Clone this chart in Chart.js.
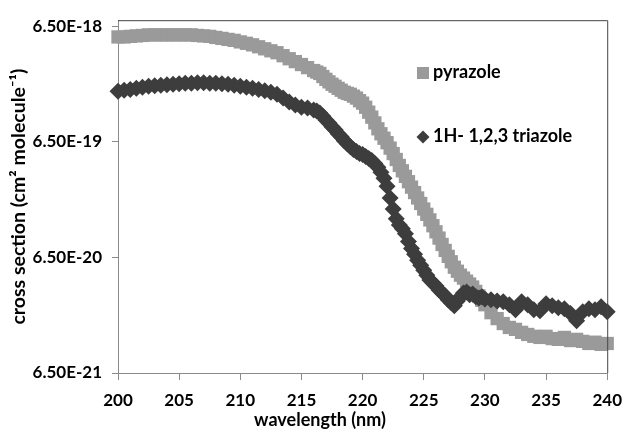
<!DOCTYPE html>
<html>
<head>
<meta charset="utf-8">
<script src="https://cdn.jsdelivr.net/npm/chart.js@4.4.1/dist/chart.umd.min.js"></script>
<style>
  html, body { margin: 0; padding: 0; background: #fff; }
  #wrap { width: 632px; height: 430px; position: relative; }
</style>
</head>
<body>
<div id="wrap"><canvas id="chart"></canvas></div>
<script>
// wavelength (nm): 0.5 nm steps, 0.25 nm across the steep drop
const wavelengths = [
  200, 200.5, 201, 201.5, 202, 202.5, 203, 203.5, 204, 204.5,
  205, 205.5, 206, 206.5, 207, 207.5, 208, 208.5, 209, 209.5,
  210, 210.5, 211, 211.5, 212, 212.5, 213, 213.5, 214, 214.5,
  215, 215.5, 216,
  216.25, 216.5, 216.75, 217, 217.25, 217.5, 217.75, 218, 218.25, 218.5,
  218.75, 219, 219.25, 219.5, 219.75, 220, 220.25, 220.5, 220.75, 221,
  221.25, 221.5, 221.75, 222, 222.25, 222.5, 222.75, 223, 223.25, 223.5,
  223.75, 224, 224.25, 224.5, 224.75, 225, 225.25, 225.5, 225.75, 226,
  226.25, 226.5, 226.75, 227, 227.25, 227.5, 227.75, 228, 228.25, 228.5,
  228.75, 229, 229.25, 229.5, 229.75,
  230, 230.5, 231, 231.5, 232, 232.5, 233, 233.5, 234, 234.5,
  235, 235.5, 236, 236.5, 237, 237.5, 238, 238.5, 239, 239.5,
  240
];

// cross section (cm2 molecule-1)
const pyrazole = [
  5.23e-18, 5.23e-18, 5.29e-18, 5.34e-18, 5.39e-18, 5.45e-18, 5.45e-18, 5.45e-18, 5.45e-18, 5.45e-18,
  5.45e-18, 5.45e-18, 5.45e-18, 5.39e-18, 5.34e-18, 5.29e-18, 5.18e-18, 5.08e-18, 4.98e-18, 4.89e-18,
  4.74e-18, 4.61e-18, 4.47e-18, 4.30e-18, 4.13e-18, 3.97e-18, 3.82e-18, 3.60e-18, 3.39e-18, 3.20e-18,
  3.02e-18, 2.84e-18, 2.68e-18,
  2.60e-18, 2.53e-18, 2.38e-18, 2.25e-18, 2.14e-18, 2.04e-18, 1.96e-18, 1.88e-18, 1.81e-18, 1.74e-18,
  1.70e-18, 1.67e-18, 1.61e-18, 1.55e-18, 1.47e-18, 1.40e-18, 1.29e-18, 1.17e-18, 1.06e-18, 9.45e-19,
  8.40e-19, 7.61e-19, 6.96e-19, 6.37e-19, 5.72e-19, 5.13e-19, 4.56e-19, 4.05e-19, 3.64e-19, 3.26e-19,
  2.93e-19, 2.63e-19, 2.36e-19, 2.12e-19, 1.90e-19, 1.70e-19, 1.53e-19, 1.37e-19, 1.22e-19, 1.08e-19,
  9.54e-20, 8.40e-20, 7.46e-20, 6.63e-20, 5.95e-20, 5.34e-20, 4.93e-20, 4.56e-20, 4.30e-20, 4.05e-20,
  3.82e-20, 3.60e-20, 3.30e-20, 3.02e-20, 2.76e-20,
  2.53e-20, 2.16e-20, 1.92e-20, 1.74e-20, 1.61e-20, 1.55e-20, 1.46e-20, 1.40e-20, 1.35e-20, 1.32e-20,
  1.35e-20, 1.29e-20, 1.27e-20, 1.32e-20, 1.24e-20, 1.27e-20, 1.22e-20, 1.17e-20, 1.20e-20, 1.15e-20,
  1.17e-20
];

const triazole = [
  1.77e-18, 1.81e-18, 1.84e-18, 1.88e-18, 1.92e-18, 1.96e-18, 1.98e-18, 2.00e-18, 2.02e-18, 2.04e-18,
  2.06e-18, 2.08e-18, 2.08e-18, 2.10e-18, 2.10e-18, 2.08e-18, 2.08e-18, 2.06e-18, 2.04e-18, 2.00e-18,
  1.96e-18, 1.92e-18, 1.88e-18, 1.84e-18, 1.79e-18, 1.74e-18, 1.67e-18, 1.55e-18, 1.43e-18, 1.35e-18,
  1.29e-18, 1.27e-18, 1.22e-18,
  1.20e-18, 1.15e-18, 1.08e-18, 1.00e-18, 9.45e-19, 8.73e-19, 8.23e-19, 7.61e-19, 7.17e-19, 6.63e-19,
  6.25e-19, 5.89e-19, 5.55e-19, 5.34e-19, 5.13e-19, 5.03e-19, 4.84e-19, 4.65e-19, 4.47e-19, 4.22e-19,
  3.90e-19, 3.53e-19, 3.14e-19, 2.68e-19, 2.12e-19, 1.70e-19, 1.40e-19, 1.24e-19, 1.15e-19, 1.04e-19,
  8.91e-20, 7.76e-20, 6.90e-20, 6.13e-20, 5.55e-20, 5.03e-20, 4.56e-20, 4.13e-20, 3.90e-20, 3.67e-20,
  3.39e-20, 3.20e-20, 3.02e-20, 2.79e-20, 2.63e-20, 2.48e-20, 2.73e-20, 2.96e-20, 3.20e-20, 3.26e-20,
  3.08e-20, 3.14e-20, 2.96e-20, 2.90e-20, 2.96e-20,
  2.84e-20, 2.79e-20, 2.73e-20, 2.68e-20, 2.53e-20, 2.29e-20, 2.68e-20, 2.53e-20, 2.29e-20, 2.25e-20,
  2.58e-20, 2.48e-20, 2.38e-20, 2.34e-20, 2.12e-20, 1.84e-20, 2.20e-20, 2.34e-20, 2.29e-20, 2.43e-20,
  2.20e-20
];

const xTicks = [200, 205, 210, 215, 220, 225, 230, 235, 240];
const yTicks = [6.5e-21, 6.5e-20, 6.5e-19, 6.5e-18];

const FONT = 'Lato, "Open Sans", sans-serif';
const GRAY = '#9a9a9a';
const DARK = '#3d3d3d';
const AXIS = '#8a8a8a';

const toPoints = (vals) => wavelengths.map((x, i) => ({ x, y: vals[i] }));

// legend inside the plot, x title, and the plot frame on top/right
const extras = {
  id: 'extras',
  afterDraw(chart) {
    const { ctx, chartArea: a } = chart;
    ctx.save();
    ctx.strokeStyle = '#444';
    ctx.lineWidth = 1;
    ctx.beginPath();
    ctx.moveTo(a.left, a.top + 0.5);
    ctx.lineTo(a.right + 0.5, a.top + 0.5);
    ctx.lineTo(a.right + 0.5, a.bottom);
    ctx.stroke();

    ctx.font = `bold 18px ${FONT}`;
    ctx.textBaseline = 'middle';
    ctx.textAlign = 'left';
    // pyrazole
    ctx.fillStyle = GRAY;
    ctx.fillRect(417, 67, 12, 12);
    ctx.fillStyle = '#000';
    ctx.fillText(chart.data.datasets[0].label, 433, 72);
    // triazole
    ctx.fillStyle = DARK;
    ctx.beginPath();
    ctx.moveTo(416.5, 137);
    ctx.lineTo(423, 130.5);
    ctx.lineTo(429.5, 137);
    ctx.lineTo(423, 143.5);
    ctx.closePath();
    ctx.fill();
    ctx.fillStyle = '#000';
    ctx.fillText(chart.data.datasets[1].label, 433, 136);

    ctx.textAlign = 'center';
    ctx.fillText('wavelength (nm)', 320, 420);
    ctx.restore();
  }
};

new Chart(document.getElementById('chart'), {
  type: 'scatter',
  data: {
    datasets: [
      {
        label: 'pyrazole',
        data: toPoints(pyrazole),
        pointStyle: 'rect',
        pointRadius: 9.4,
        backgroundColor: GRAY,
        borderColor: GRAY,
        borderWidth: 0,
        order: 2
      },
      {
        label: '1H- 1,2,3 triazole',
        data: toPoints(triazole),
        pointStyle: 'rectRot',
        pointRadius: 8.5,
        backgroundColor: DARK,
        borderColor: DARK,
        borderWidth: 0,
        order: 1
      }
    ]
  },
  options: {
    responsive: true,
    maintainAspectRatio: false,
    animation: false,
    clip: false,
    layout: { padding: { top: 16, right: 16, left: 0, bottom: 0 } },
    plugins: {
      legend: { display: false },
      tooltip: { enabled: false }
    },
    scales: {
      x: {
        type: 'linear',
        min: 200,
        max: 240,
        afterBuildTicks: (s) => { s.ticks = xTicks.map(v => ({ value: v })); },
        afterFit: (s) => { s.height = 57; },
        ticks: {
          color: '#000',
          font: { family: FONT, size: 17, weight: 'bold' },
          padding: 10,
          maxRotation: 0
        },
        grid: { drawOnChartArea: false, color: AXIS, tickLength: 7 },
        border: { color: AXIS, width: 1 }
      },
      y: {
        type: 'logarithmic',
        min: 6.5e-21,
        max: 7.3e-18,
        afterBuildTicks: (s) => { s.ticks = yTicks.map(v => ({ value: v })); },
        afterFit: (s) => { s.width = 118; },
        ticks: {
          color: '#000',
          font: { family: FONT, size: 17, weight: 'bold' },
          padding: 10,
          callback: (v) => Number(v).toExponential(2).toUpperCase()
        },
        grid: { drawOnChartArea: false, color: AXIS, tickLength: 6 },
        border: { color: AXIS, width: 1 },
        title: {
          display: true,
          text: 'cross section (cm² molecule⁻¹)',
          color: '#000',
          font: { family: FONT, size: 19.5, weight: 'bold' },
          padding: { top: 7, bottom: 0 }
        }
      }
    }
  },
  plugins: [extras]
});
</script>
</body>
</html>
